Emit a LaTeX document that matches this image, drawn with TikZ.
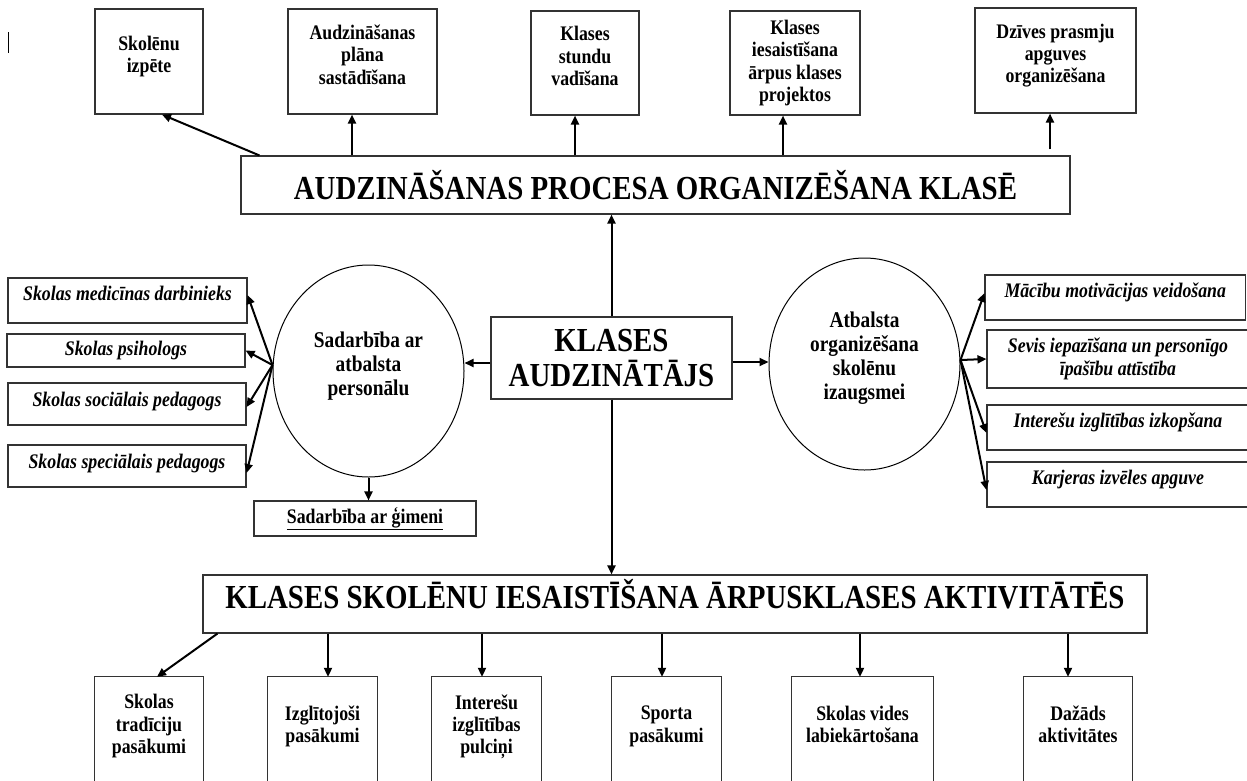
\documentclass[tikz,border=0pt]{standalone}
\usepackage{fontspec}
\setmainfont{Liberation Serif}[FakeStretch=0.86]
\usepackage{tikz}
\usetikzlibrary{shapes.geometric,arrows.meta}

\begin{document}
\begin{tikzpicture}[x=1pt, y=-1pt,
		boxline/.style={draw=black!80, line width=1.1pt},
		plainbox/.style={boxline, inner sep=0pt, align=center},
		smallbox/.style={plainbox, font=\fontsize{20.7}{22.3}\selectfont\bfseries},
		sidebox/.style={plainbox, font=\fontsize{20.7}{22.3}\selectfont\bfseries\itshape},
		headbox/.style={plainbox, font=\fontsize{33.6}{35}\selectfont\bfseries},
		openbox/.style={inner sep=0pt, align=center, minimum height=108pt, font=\fontsize{20.7}{22.3}\selectfont\bfseries},
		oval/.style={ellipse, draw=black, line width=1pt, inner sep=0pt, align=center, minimum width=191pt, minimum height=212pt, font=\fontsize{22.5}{24}\selectfont\bfseries},
		lift/.style={execute at end node={\rule[-#1]{0pt}{#1}}},
		conn/.style={line width=2pt, -{Triangle[width=8pt,length=9pt]}}]

		\useasboundingbox (0,0) rectangle (1247,780);
		\clip (0,0) rectangle (1247,780);

		% the small mark at the top left
		\draw[line width=0.8pt] (8,32) -- (8,53);

		% make the top boxes
		\node[smallbox, lift=14pt, minimum width=108pt, minimum height=105pt] (skol) at (149,61.5) {Skolēnu\\izpēte};
		\node[smallbox, lift=14pt, minimum width=149pt, minimum height=105pt] (audz) at (362.5,61.5) {Audzināšanas\\plāna\\sastādīšana};
		\node[smallbox, lift=14pt, minimum width=108pt, minimum height=104pt] (stund) at (585,63) {Klases\\stundu\\vadīšana};
		\node[smallbox, minimum width=130pt, minimum height=104pt] (proj) at (795,63) {Klases\\iesaistīšana\\ārpus klases\\projektos};
		\node[smallbox, lift=14pt, minimum width=161pt, minimum height=105pt] (dziv) at (1055.5,60.5) {Dzīves prasmju\\apguves\\organizēšana};

		% make the three main boxes
		\node[headbox, minimum width=829pt, minimum height=58pt] (proc) at (655.5,185) {AUDZINĀŠANAS PROCESA ORGANIZĒŠANA KLASĒ};
		\node[headbox, minimum width=241pt, minimum height=82pt] (aud) at (611.5,358) {KLASES\\AUDZINĀTĀJS};
		\node[headbox, lift=20pt, minimum width=944pt, minimum height=58pt] (akt) at (675,604) {KLASES SKOLĒNU IESAISTĪŠANA ĀRPUSKLASES AKTIVITĀTĒS};

		% make the two ellipses
		\node[oval, lift=15.5pt] (pers) at (368.5,371) {Sadarbība ar\\atbalsta\\personālu};
		\node[oval, lift=16pt] (izaug) at (864.5,364) {Atbalsta\\organizēšana\\skolēnu\\izaugsmei};

		% make the left boxes
		\node[sidebox, lift=14pt, minimum width=239pt, minimum height=45pt] (med) at (127.5,300.5) {Skolas medicīnas darbinieks};
		\node[sidebox, minimum width=238pt, minimum height=33pt] (psih) at (126,350.5) {Skolas psihologs};
		\node[sidebox, lift=10pt, minimum width=238pt, minimum height=42pt] (soc) at (127,404) {Skolas sociālais pedagogs};
		\node[sidebox, lift=10pt, minimum width=238pt, minimum height=42pt] (spec) at (127,466) {Skolas speciālais pedagogs};
		\node[smallbox, minimum width=222pt, minimum height=35pt] (gim) at (365,518.5) {\underline{Sadarbība ar ģimeni}};

		% make the right boxes
		\node[sidebox, lift=14pt, minimum width=260.5pt, minimum height=45pt] (mot) at (1115.25,297.5) {Mācību motivācijas veidošana};
		\node[sidebox, minimum width=262pt, minimum height=58pt] (sev) at (1118,359) {Sevis iepazīšana un personīgo\\īpašību attīstība};
		\node[sidebox, lift=14pt, minimum width=262pt, minimum height=45pt] (int) at (1118,427.5) {Interešu izglītības izkopšana};
		\node[sidebox, lift=14pt, minimum width=262pt, minimum height=45pt] (kar) at (1118,484.5) {Karjeras izvēles apguve};

		% make the bottom boxes, cut off by the lower edge
		\node[openbox, lift=14pt, minimum width=108pt] (trad) at (149,731) {Skolas\\tradīciju\\pasākumi};
		\node[openbox, lift=14pt, minimum width=109pt] (izgl) at (322.5,731) {Izglītojoši\\pasākumi};
		\node[openbox, lift=14pt, minimum width=109pt] (pulc) at (486.5,731) {Interešu\\izglītības\\pulciņi};
		\node[openbox, lift=14pt, minimum width=109pt] (sport) at (666.5,731) {Sporta\\pasākumi};
		\node[openbox, lift=14pt, minimum width=141pt] (vides) at (862.5,731) {Skolas vides\\labiekārtošana};
		\node[openbox, lift=14pt, minimum width=108pt] (daz) at (1078,731) {Dažāds\\aktivitātes};
		\foreach \b in {trad,izgl,pulc,sport,vides,daz}
			\draw[boxline] ([yshift=-30pt]\b.south west) |- (\b.north east) -- ([yshift=-30pt]\b.south east);

		% make the arrows to the top boxes
		\draw[conn] ([xshift=19pt]proc.north west) -- ([xshift=13pt]skol.south);
		\draw[conn] ([xshift=-10.5pt]audz.south |- proc.north) -- ([xshift=-10.5pt]audz.south);
		\draw[conn] ([xshift=-10pt]stund.south |- proc.north) -- ([xshift=-10pt]stund.south);
		\draw[conn] ([xshift=-12pt]proj.south |- proc.north) -- ([xshift=-12pt]proj.south);
		\draw[conn] ([xshift=-5.5pt,yshift=6pt]dziv.south |- proc.north) -- ([xshift=-5.5pt]dziv.south);

		% make the arrows from the centre box
		\draw[conn] (aud.north) -- (aud.north |- proc.south);
		\draw[conn] (aud.south) -- (aud.south |- akt.north);
		\draw[conn] ([yshift=-5pt]aud.west) -- ([yshift=-5pt]aud.west -| pers.east);
		\draw[conn] ([yshift=-4pt]aud.east) -- ([yshift=-4pt]aud.east -| izaug.west);

		% make the arrows from the left ellipse
		\draw[conn] ([yshift=6pt]pers.west) -- ([yshift=5.5pt]med.east);
		\draw[conn] ([yshift=6pt]pers.west) -- (psih.east);
		\draw[conn] ([yshift=6pt]pers.west) -- ([yshift=-3pt]soc.east);
		\draw[conn] ([yshift=6pt]pers.west) -- ([yshift=-7pt]spec.east);
		\draw[conn] (pers.south) -- (pers.south |- gim.north);

		% make the arrows from the right ellipse
		\draw[conn] ([yshift=4pt]izaug.east) -- ([yshift=4.5pt]mot.west);
		\draw[conn] ([yshift=4pt]izaug.east) -- (sev.west);
		\draw[conn] ([yshift=4pt]izaug.east) -- ([yshift=-5.5pt]int.west);
		\draw[conn] ([yshift=4pt]izaug.east) -- ([yshift=-5.5pt]kar.west);

		% make the arrows to the bottom boxes
		\draw[conn] ([xshift=15pt]akt.south west) -- ([xshift=8pt]trad.north);
		\draw[conn] ([xshift=5.5pt]izgl.north |- akt.south) -- ([xshift=5.5pt]izgl.north);
		\draw[conn] ([xshift=-4.5pt]pulc.north |- akt.south) -- ([xshift=-4.5pt]pulc.north);
		\draw[conn] ([xshift=-4.5pt]sport.north |- akt.south) -- ([xshift=-4.5pt]sport.north);
		\draw[conn] ([xshift=-2.5pt]vides.north |- akt.south) -- ([xshift=-2.5pt]vides.north);
		\draw[conn] ([xshift=-10pt]daz.north |- akt.south) -- ([xshift=-10pt]daz.north);

	\end{tikzpicture}
\end{document}
